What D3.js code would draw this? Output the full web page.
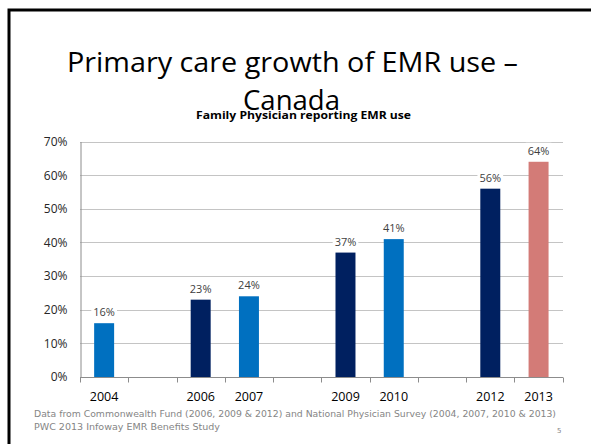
<!DOCTYPE html>
<html>
<head>
<meta charset="utf-8">
<script src="https://cdn.jsdelivr.net/npm/d3@7"></script>
<style>
  html, body { margin: 0; padding: 0; background: #fff; }
  svg { display: block; }
</style>
</head>
<body>
<script>
// ---- Data ----
const categories = ["2004", "2005", "2006", "2007", "2008", "2009", "2010", "2011", "2012", "2013"];
const categoryLabels = ["2004", "", "2006", "2007", "", "2009", "2010", "", "2012", "2013"];
const values = [0.16, null, 0.23, 0.24, null, 0.37, 0.41, null, 0.56, 0.64];
const sources = ["NPS", null, "CWF", "NPS", null, "CWF", "NPS", null, "CWF", "PWC"];
const yTicks = [0, 0.1, 0.2, 0.3, 0.4, 0.5, 0.6, 0.7];
const titleLines = ["Primary care growth of EMR use \u2013", "Canada"];
const subtitle = "Family Physician reporting EMR use";
const footerLines = [
  "Data from Commonwealth Fund (2006, 2009 & 2012) and National Physician Survey (2004, 2007, 2010 & 2013)",
  "PWC 2013 Infoway EMR Benefits Study"
];
const pageNumber = "5";

// ---- Layout ----
const W = 591, H = 444;
const colorMap = { NPS: "#0070C0", CWF: "#002060", PWC: "#D37B77" };
const svg = d3.select("body").append("svg").attr("width", W).attr("height", H);

svg.append("rect").attr("x", 0).attr("y", 0).attr("width", W).attr("height", H).attr("fill", "#fff");
// slide frame
svg.append("rect").attr("x", 9).attr("y", 10).attr("width", 640).attr("height", 500)
  .attr("fill", "none").attr("stroke", "#000").attr("stroke-width", 3);

// title
svg.append("text").attr("x", 67).attr("y", 72).text(titleLines[0])
  .attr("font-family", "'Open Sans', sans-serif").attr("font-size", 28).attr("fill", "#000")
  .attr("textLength", 451).attr("lengthAdjust", "spacingAndGlyphs");
svg.append("text").attr("x", 243).attr("y", 110).text(titleLines[1])
  .attr("font-family", "'Open Sans', sans-serif").attr("font-size", 28).attr("fill", "#000")
  .attr("textLength", 97).attr("lengthAdjust", "spacingAndGlyphs");
svg.append("text").attr("x", 196).attr("y", 119).text(subtitle)
  .attr("font-family", "'Open Sans', sans-serif").attr("font-weight", "bold").attr("font-size", 10.5).attr("fill", "#000")
  .attr("textLength", 215).attr("lengthAdjust", "spacingAndGlyphs");

// scales
const x = d3.scaleBand().domain(categories).range([80, 562.7]).paddingInner(0.586).paddingOuter(0.293);
const y = d3.scaleLinear().domain([0, 0.7]).range([377, 141.6]);

// gridlines
svg.append("g").selectAll("line").data(yTicks.filter(d => d > 0)).join("line")
  .attr("x1", 80).attr("x2", 563).attr("y1", d => Math.round(y(d)) + 0.5).attr("y2", d => Math.round(y(d)) + 0.5)
  .attr("stroke", "#c4c4c4").attr("stroke-width", 1);

// y axis
const yAxis = d3.axisLeft(y).tickValues(yTicks).tickFormat(d3.format(".0%")).tickSize(0).tickPadding(13);
const gy = svg.append("g").attr("transform", "translate(80.5,0)").call(yAxis);
gy.select(".domain").attr("stroke", "#8c8c8c");
gy.selectAll("text").attr("font-family", "'Open Sans', sans-serif").attr("font-size", 12).attr("fill", "#262626");

// bars
svg.append("g").selectAll("rect").data(categories.map((c, i) => ({ c, v: values[i], s: sources[i] })).filter(d => d.v != null))
  .join("rect")
  .attr("x", d => x(d.c)).attr("width", x.bandwidth())
  .attr("y", d => y(d.v)).attr("height", d => y(0) - y(d.v))
  .attr("fill", d => colorMap[d.s]);

// x axis
const step = x.step();
const gx = svg.append("g").attr("transform", "translate(0,377.5)");
gx.append("line").attr("x1", 80).attr("x2", 563).attr("stroke", "#8c8c8c");
gx.selectAll("line.tick").data(d3.range(categories.length + 1)).join("line").attr("class", "tick")
  .attr("x1", i => Math.round(80 + i * step) + 0.5).attr("x2", i => Math.round(80 + i * step) + 0.5)
  .attr("y1", 0).attr("y2", 5).attr("stroke", "#8c8c8c");
gx.selectAll("text").data(categories).join("text")
  .attr("x", d => x(d) + x.bandwidth() / 2).attr("y", 23.5)
  .attr("text-anchor", "middle").text((d, i) => categoryLabels[i])
  .attr("font-family", "'Open Sans', sans-serif").attr("font-size", 12.5).attr("fill", "#000");

// data labels with white background
const lg = svg.append("g");
categories.forEach((c, i) => {
  if (values[i] == null) return;
  const g = lg.append("g");
  const bg = g.append("rect").attr("fill", "#fff");
  const t = g.append("text").attr("x", x(c) + x.bandwidth() / 2).attr("y", y(values[i]) - 7)
    .attr("text-anchor", "middle").text(d3.format(".0%")(values[i]))
    .attr("font-family", "'Open Sans', sans-serif").attr("font-size", 11).attr("fill", "#404040");
  const b = t.node().getBBox();
  bg.attr("x", b.x - 2).attr("y", b.y).attr("width", b.width + 4).attr("height", b.height);
});

// footer
svg.append("text").attr("x", 34).attr("y", 417).text(footerLines[0])
  .attr("font-family", "'DejaVu Sans', Verdana, sans-serif").attr("font-size", 8).attr("fill", "#858585")
  .attr("textLength", 522).attr("lengthAdjust", "spacingAndGlyphs");
svg.append("text").attr("x", 34).attr("y", 430).text(footerLines[1])
  .attr("font-family", "'DejaVu Sans', Verdana, sans-serif").attr("font-size", 8).attr("fill", "#858585")
  .attr("textLength", 186).attr("lengthAdjust", "spacingAndGlyphs");
svg.append("text").attr("x", 557).attr("y", 433).text(pageNumber)
  .attr("font-family", "'DejaVu Sans', Verdana, sans-serif").attr("font-size", 7).attr("fill", "#858585");
</script>
</body>
</html>
